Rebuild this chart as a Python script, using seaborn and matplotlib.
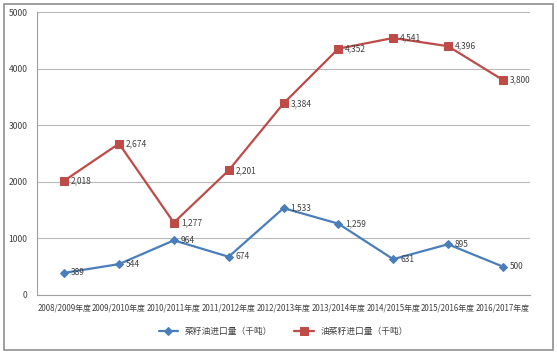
import matplotlib
matplotlib.use("Agg")
import matplotlib.pyplot as plt
import seaborn as sns
import pandas as pd
from matplotlib.patches import Rectangle

# data
years = ["2008/2009年度", "2009/2010年度", "2010/2011年度", "2011/2012年度",
         "2012/2013年度", "2013/2014年度", "2014/2015年度", "2015/2016年度",
         "2016/2017年度"]
oil_import = [389, 544, 964, 674, 1533, 1259, 631, 895, 500]
seed_import = [2018, 2674, 1277, 2201, 3384, 4352, 4541, 4396, 3800]
oil_label = "菜籽油进口量（千吨）"
seed_label = "油菜籽进口量（千吨）"

sns.set_style("white")
plt.rcParams["font.family"] = ["Noto Sans CJK SC", "DejaVu Sans"]

df = pd.DataFrame({"year": years, oil_label: oil_import, seed_label: seed_import})
df["x"] = range(len(years))

fig = plt.figure(figsize=(5.57, 3.54), dpi=100)
ax = fig.add_axes([0.066, 0.167, 0.886, 0.799])

blue = "#4a7ebb"
red = "#be4b48"
sns.lineplot(data=df, x="x", y=oil_label, ax=ax, color=blue, marker="D",
             markersize=4.5, markeredgecolor=blue, linewidth=1.6, label=oil_label)
sns.lineplot(data=df, x="x", y=seed_label, ax=ax, color=red, marker="s",
             markersize=6, markeredgecolor=red, linewidth=1.6, label=seed_label)

for vals in [oil_import, seed_import]:
    for x, v in zip(df["x"], vals):
        ax.annotate(f"{v:,}", (x, v), xytext=(5, 0), textcoords="offset points",
                    ha="left", va="center", fontsize=6, color="#404040")

ax.set_xlim(-0.5, len(years) - 0.5)
ax.set_ylim(0, 5000)
ax.set_yticks(range(0, 5001, 1000))
ax.set_xticks(range(len(years)))
ax.set_xticklabels(years, fontsize=5.7, color="#404040")
ax.set_xticks([i + 0.5 for i in range(-1, len(years))], minor=True)
ax.tick_params(axis="x", which="major", length=0, pad=6)
ax.tick_params(axis="x", which="minor", length=3, color="#a0a0a0", direction="out")
ax.tick_params(axis="y", labelsize=6.2, labelcolor="#404040", length=3,
               color="#a0a0a0", direction="out")
ax.grid(axis="y", color="#b8b8b8", linewidth=0.8)
ax.set_xlabel("")
ax.set_ylabel("")
for side in ["top", "right"]:
    ax.spines[side].set_visible(False)
for side in ["left", "bottom"]:
    ax.spines[side].set_color("#a0a0a0")
    ax.spines[side].set_linewidth(0.8)

ax.legend(loc="center", bbox_to_anchor=(0.5, -0.13), ncol=2, frameon=False,
          fontsize=6.3, handlelength=2.2, columnspacing=2.5, labelcolor="#404040")

fig.add_artist(Rectangle((0.007, 0.01), 0.985, 0.98, transform=fig.transFigure,
                         fill=False, edgecolor="#909090", linewidth=1.2))

fig.savefig("out.png", dpi=100)
